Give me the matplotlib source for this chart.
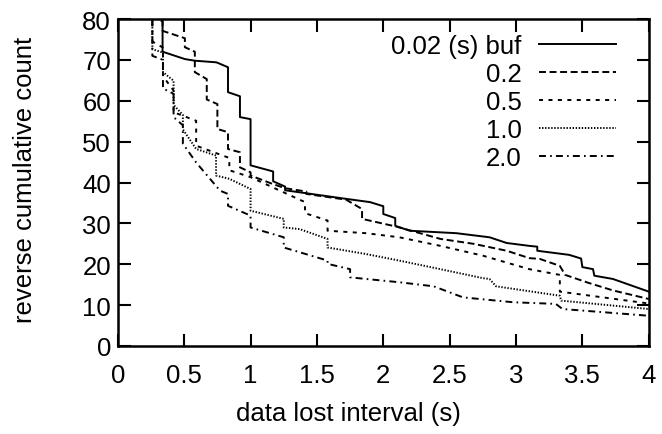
import matplotlib
matplotlib.use("Agg")
import matplotlib.pyplot as plt

plt.rcParams['font.family'] = ['Liberation Sans', 'DejaVu Sans']
plt.rcParams['lines.scale_dashes'] = False

# Reverse cumulative count of data-lost intervals, one curve per buffer length
buf_002_interval = [0.337, 0.337, 0.505, 0.58, 0.743, 0.83, 0.83, 0.92, 0.92, 1.0, 1.0,
                    1.17, 1.17, 1.26, 1.26, 1.37, 1.72, 1.9, 2.0, 2.0, 2.09, 2.09, 2.2,
                    2.55, 2.8, 2.93, 3.1, 3.16, 3.16, 3.4, 3.49, 3.5, 3.58, 3.59, 3.73, 4.0]
buf_002_count = [84, 72.0, 70.2, 69.8, 69.4, 68.2, 62.1, 61.1, 56.0, 55.5, 44.2,
                 42.7, 40.3, 39.0, 38.1, 37.6, 36.0, 35.2, 34.2, 32.3, 31.3, 29.4, 28.2,
                 27.6, 26.6, 25.2, 24.5, 24.3, 23.3, 22.3, 21.4, 19.3, 18.8, 17.2, 16.4, 13.3]

buf_02_interval = [0.25, 0.337, 0.337, 0.505, 0.505, 0.58, 0.58, 0.67, 0.67, 0.75, 0.75,
                   0.83, 0.83, 0.92, 0.92, 1.0, 1.0, 1.17, 1.26, 1.42, 1.42, 1.72, 1.84,
                   1.84, 2.1, 2.43, 2.68, 2.93, 3.1, 3.18, 3.33, 3.37, 3.55, 3.73, 4.0]
buf_02_count = [80.6, 79.4, 77.1, 75.3, 73.1, 72.0, 67.0, 65.3, 60.3, 59.2, 53.1,
                52.3, 48.2, 47.4, 43.7, 42.5, 41.7, 39.6, 38.6, 37.8, 37.2, 35.8, 33.5,
                31.1, 29.2, 26.2, 25.0, 23.3, 21.5, 21.3, 19.6, 17.4, 15.4, 13.6, 11.5]

buf_05_interval = [0.26, 0.26, 0.34, 0.34, 0.42, 0.42, 0.59, 0.59, 0.84, 0.84, 1.0, 1.41,
                   1.41, 1.58, 1.58, 1.87, 2.12, 2.43, 2.75, 3.1, 3.33, 3.33, 4.0]
buf_05_count = [84, 74.5, 73.0, 66.0, 62.5, 57.2, 55.1, 49.0, 46.0, 43.0, 41.3, 35.2,
                32.5, 30.7, 28.2, 27.6, 26.6, 24.5, 22.1, 18.8, 17.4, 13.3, 10.4]

buf_10_interval = [0.26, 0.26, 0.34, 0.34, 0.42, 0.42, 0.49, 0.49, 0.59, 0.74, 0.74, 0.84,
                   1.0, 1.0, 1.25, 1.25, 1.37, 1.58, 1.58, 1.87, 2.12, 2.43, 2.75, 2.8,
                   2.85, 3.33, 3.34, 4.0]
buf_10_count = [84, 72.6, 71.8, 67.0, 64.9, 59.0, 56.5, 53.0, 48.2, 46.6, 41.7, 40.9,
                38.4, 33.1, 31.1, 29.0, 28.6, 26.2, 24.1, 22.5, 20.9, 18.8, 16.6, 16.4,
                14.6, 12.3, 11.1, 9.05]

buf_20_interval = [0.26, 0.26, 0.34, 0.34, 0.42, 0.42, 0.49, 0.49, 0.59, 0.77, 0.83, 0.83,
                   1.0, 1.0, 1.25, 1.25, 1.58, 1.58, 1.75, 1.75, 1.87, 2.12, 2.38, 2.6,
                   2.98, 3.3, 3.35, 4.0]
buf_20_count = [84, 71.0, 70.0, 63.0, 61.7, 56.0, 54.0, 49.5, 44.9, 38.0, 37.2, 34.3,
                31.9, 29.0, 26.6, 24.1, 20.9, 20.1, 18.8, 16.8, 16.4, 15.6, 14.6, 11.9,
                10.7, 10.3, 9.05, 7.4]

series_labels = ['0.02 (s) buf', '0.2', '0.5', '1.0', '2.0']
x_ticks = [0, 0.5, 1, 1.5, 2, 2.5, 3, 3.5, 4]
x_tick_labels = ['0', '0.5', '1', '1.5', '2', '2.5', '3', '3.5', '4']
y_ticks = [0, 10, 20, 30, 40, 50, 60, 70, 80]

series = [
    (buf_002_interval, buf_002_count, '-'),
    (buf_02_interval, buf_02_count, (0, (5.0, 2.6))),
    (buf_05_interval, buf_05_count, (0, (2.9, 3.9))),
    (buf_10_interval, buf_10_count, (0, (1.0, 1.2))),
    (buf_20_interval, buf_20_count, (0, (5.0, 3.0, 1.2, 3.0))),
]

FS = 18.5

fig = plt.figure(figsize=(6.62, 4.35), dpi=100)
ax = fig.add_axes([0.178, 0.2023, 0.802, 0.7517])

for (xs, ys, ls), label in zip(series, series_labels):
    ax.plot(xs, ys, color='black', linewidth=1.4, linestyle=ls, label=label)

ax.set_xlim(0, 4)
ax.set_ylim(0, 80)
ax.set_xticks(x_ticks)
ax.set_xticklabels(x_tick_labels)
ax.set_yticks(y_ticks)
ax.tick_params(direction='in', length=9, width=1.5, top=True, right=True,
               labelsize=FS, colors='black')
ax.tick_params(axis='x', pad=12)
ax.tick_params(axis='y', pad=5)
for side in ax.spines.values():
    side.set_linewidth(1.8)

ax.set_xlabel('data lost interval (s)', fontsize=FS)
ax.xaxis.set_label_coords(0.435, -0.168)
ax.set_ylabel('reverse cumulative count', fontsize=FS)
ax.yaxis.set_label_coords(-0.152, 0.51)

ax.legend(loc='upper right', bbox_to_anchor=(0.938, 0.955), frameon=False,
          markerfirst=False, fontsize=FS, handlelength=3.0, handletextpad=0.66,
          labelspacing=0.16, borderpad=0, borderaxespad=0)

fig.savefig('out.png', dpi=100)
